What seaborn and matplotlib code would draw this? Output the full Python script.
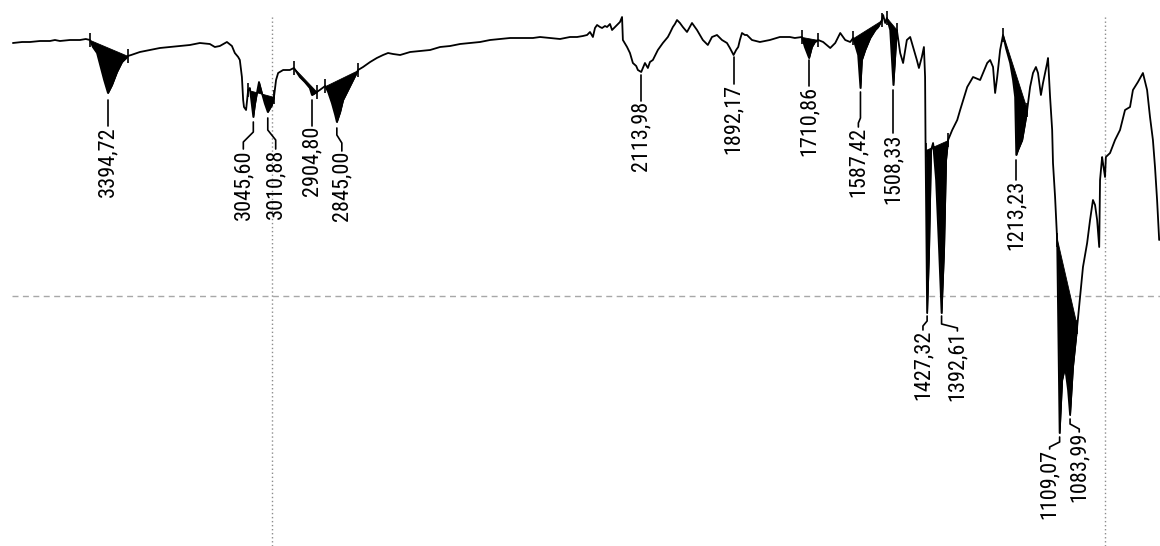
import matplotlib
matplotlib.use("Agg")
import matplotlib.pyplot as plt
from matplotlib import font_manager
import numpy as np
import pandas as pd
import seaborn as sns

# IR spectrum: wavenumber (cm-1) and transmittance (%)
wavenumber = [
    3623, 3601, 3582, 3558, 3534, 3522, 3510, 3486, 3462, 3448,
    3438, 3431, 3421, 3414, 3404, 3394.72, 3385, 3373, 3361, 3351,
    3347, 3339, 3318, 3294, 3270, 3246, 3222, 3198, 3174, 3150,
    3138, 3126, 3109, 3097, 3090, 3082, 3078, 3073, 3070, 3068,
    3063, 3058, 3054, 3045.60, 3042, 3037, 3032, 3025, 3018, 3010.88,
    3001, 2996, 2991, 2986, 2974, 2958, 2948, 2934, 2922, 2910,
    2904.80, 2893, 2886, 2873, 2866, 2857, 2849, 2845.00, 2837, 2830,
    2818, 2806, 2794, 2782, 2765, 2749, 2734, 2722, 2710, 2693,
    2669, 2645, 2621, 2597, 2573, 2549, 2525, 2501, 2477, 2453,
    2429, 2405, 2374, 2357, 2333, 2309, 2285, 2268, 2254, 2244,
    2237, 2230, 2225, 2220, 2213, 2208, 2201, 2196, 2189, 2184,
    2177, 2172, 2165, 2160, 2158, 2148, 2141, 2134, 2126, 2122,
    2113.98, 2110, 2105, 2098, 2093, 2086, 2074, 2062, 2050, 2045,
    2038, 2033, 2028, 2021, 2014, 2004, 1992, 1980, 1966, 1954,
    1944, 1932, 1920, 1908, 1901, 1892.17, 1886, 1881, 1877, 1872,
    1865, 1860, 1848, 1838, 1829, 1805, 1781, 1757, 1745, 1728,
    1721, 1710.86, 1704, 1697, 1689, 1677, 1660, 1648, 1636, 1624,
    1612, 1605, 1600, 1593, 1587.42, 1584, 1576, 1564, 1552, 1545,
    1536, 1533, 1528, 1524, 1516, 1508.33, 1502, 1500, 1492, 1485,
    1476, 1468, 1461, 1452, 1447, 1440, 1435, 1432.2, 1431.0, 1429.8,
    1427.32, 1422.6, 1417.8, 1413.0, 1405.8, 1398.6, 1392.61, 1386.6, 1381.8, 1377.0,
    1367, 1355, 1348, 1331, 1317, 1300, 1283, 1276, 1269, 1264,
    1259, 1252, 1245, 1238, 1228, 1221, 1216, 1213.23, 1209, 1199,
    1192, 1187, 1180, 1173, 1166, 1161, 1154, 1149, 1139, 1137,
    1132, 1127, 1125, 1120, 1115, 1112.8, 1109.07, 1103, 1096, 1088.8,
    1083.99, 1077, 1067, 1060, 1053, 1043, 1036, 1029, 1024, 1019,
    1014, 1012, 1007, 1005, 1000, 998, 988, 976, 964, 952,
    940, 933, 921, 909, 899, 892, 885, 880, 875, 870,
]

transmittance = [
    100.6, 100.8, 100.8, 101.0, 101.0, 101.2, 101.0, 101.2, 101.2, 101.4,
    101.2, 99.8, 98.6, 96.4, 93.2, 90.6, 92.2, 94.8, 96.8, 97.6,
    98.0, 98.2, 98.8, 99.2, 99.6, 99.8, 100.0, 100.2, 100.6, 100.4,
    99.8, 100.0, 100.8, 100.0, 98.6, 97.8, 97.2, 93.8, 89.2, 87.8,
    87.2, 91.2, 91.6, 85.8, 88.2, 90.6, 92.8, 90.6, 88.5, 86.8,
    88.2, 89.8, 93.2, 94.6, 95.2, 95.2, 95.6, 93.8, 92.8, 91.6,
    90.2, 90.8, 91.2, 92.0, 90.8, 88.6, 86.2, 84.8, 86.8, 89.2,
    91.2, 93.2, 95.2, 95.8, 96.8, 97.6, 98.2, 98.6, 98.4, 98.2,
    98.8, 99.0, 99.2, 99.8, 100.0, 100.4, 100.6, 100.8, 101.2, 101.4,
    101.6, 101.6, 101.6, 101.8, 101.6, 101.4, 101.8, 101.8, 102.0, 102.2,
    102.8, 101.8, 103.6, 104.2, 103.8, 103.6, 104.0, 103.8, 104.4, 103.2,
    103.8, 104.2, 104.8, 105.8, 101.2, 99.8, 98.6, 96.6, 96.0, 95.2,
    94.8, 95.6, 96.6, 95.6, 96.8, 97.2, 99.2, 100.6, 101.8, 102.6,
    103.8, 104.4, 105.2, 104.6, 103.8, 102.8, 104.6, 103.2, 101.2, 100.2,
    101.8, 102.2, 101.2, 100.6, 99.6, 98.2, 99.2, 99.8, 101.2, 102.6,
    102.2, 102.2, 101.2, 101.0, 100.8, 101.2, 101.8, 101.8, 101.6, 101.8,
    99.8, 97.6, 99.8, 100.8, 101.2, 100.8, 99.6, 100.6, 102.6, 101.2,
    100.8, 101.6, 100.2, 98.2, 91.6, 97.2, 99.2, 101.6, 103.2, 103.8,
    105.2, 106.2, 104.6, 105.6, 103.2, 92.2, 100.6, 103.2, 98.6, 96.6,
    101.2, 101.8, 99.8, 97.2, 95.6, 97.8, 99.8, 93.8, 79.2, 69.2,
    46.6, 59.2, 79.2, 80.6, 73.2, 59.2, 46.6, 59.2, 77.2, 81.2,
    83.2, 85.2, 87.2, 91.8, 93.8, 93.2, 96.6, 97.2, 95.8, 90.6,
    93.8, 99.2, 102.2, 99.6, 96.6, 93.2, 89.8, 78.2, 79.2, 81.2,
    84.6, 87.2, 91.8, 94.6, 95.8, 94.6, 90.2, 92.6, 96.6, 97.6,
    89.8, 83.2, 76.6, 69.8, 61.2, 47.2, 22.6, 33.2, 35.8, 31.2,
    26.2, 35.8, 43.8, 49.8, 55.8, 60.6, 65.2, 69.2, 68.2, 65.2,
    59.8, 73.2, 77.8, 76.6, 73.8, 77.8, 78.6, 81.2, 83.2, 87.2,
    87.8, 91.2, 92.8, 94.6, 91.2, 85.8, 81.2, 75.8, 69.2, 61.2,
]

# Integrated bands (start, end wavenumber)
band_windows = [
    (3438, 3347), (3058, 2996), (2948, 2893), (2873, 2794), (1728, 1689),
    (1605, 1536), (1524, 1500), (1431.0, 1377.0), (1245, 1187), (1115, 1067),
]

# Labelled peak positions
peak_positions = [
    3394.72, 3045.60, 3010.88, 2904.80, 2845.00, 2113.98, 1892.17, 1710.86,
    1587.42, 1508.33, 1427.32, 1392.61, 1213.23, 1109.07, 1083.99,
]

# Leader layout per peak: text shift (cm-1), leader start, two bend levels, text top (%T)
leader_layout = [
    (0, 89.2, 86.0, 85.0, 84.0),
    (24, 84.8, 82.8, 80.8, 79.4),
    (-19, 85.6, 83.2, 81.2, 79.4),
    (0, 89.2, 86.0, 85.0, 84.0),
    (-12, 83.6, 82.2, 80.6, 79.0),
    (0, 94.2, 91.0, 90.0, 89.0),
    (0, 97.8, 94.0, 93.0, 92.4),
    (0, 97.2, 93.0, 92.5, 92.0),
    (5, 90.8, 85.6, 84.6, 83.8),
    (0, 91.2, 84.0, 83.0, 82.6),
    (10, 46.0, 45.0, 44.0, 43.2),
    (-38, 46.0, 44.4, 43.6, 43.0),
    (0, 77.2, 75.0, 74.0, 73.2),
    (24, 21.8, 20.8, 19.8, 19.4),
    (-22, 25.4, 24.4, 23.4, 22.8),
]

grid_wavenumbers = [3000, 1000]
grid_transmittance = [50]

sns.set_style("white")

# pick a narrow face for the peak labels when one is available
installed = font_manager.fontManager.ttflist
narrow_names = ["Liberation Sans Narrow", "DejaVu Sans Condensed",
                "Roboto Condensed", "Open Sans Condensed", "Noto Sans Condensed"]
label_font = None
for name in narrow_names:
    if any(f.name == name for f in installed):
        label_font = font_manager.FontProperties(family=name, size=16)
        break
if label_font is None:
    cond = [f for f in installed
            if str(f.stretch).lower() in ("condensed", "semi-condensed", "extra-condensed")
            or (isinstance(f.stretch, (int, float)) and f.stretch < 500)]
    cond = [f for f in cond if f.weight in ("normal", 400, "regular", "book")] or cond
    if cond:
        label_font = font_manager.FontProperties(fname=cond[0].fname, size=16)
    else:
        label_font = font_manager.FontProperties(family="DejaVu Sans", size=12.5)

df = pd.DataFrame({"wavenumber": wavenumber, "T": transmittance})
wn = np.asarray(wavenumber, dtype=float)
tr = np.asarray(transmittance, dtype=float)

fig = plt.figure(figsize=(11.6, 5.46), dpi=100)
ax = fig.add_axes([0, 0, 1, 1])
ax.set_xlim(3654, 868)
ax.set_ylim(0, 109.2)
ax.set_axis_off()

# grid lines
for g in grid_wavenumbers:
    ax.axvline(g, ymin=0, ymax=0.972, color="#8c8c8c", lw=1.0,
               linestyle=(0, (1.0, 1.9)), zorder=0)
for g in grid_transmittance:
    ax.axhline(g, xmin=0.01, xmax=1, color="#a8a8a8", lw=1.0,
               linestyle=(0, (4.3, 3.2)), zorder=0)

# spectrum trace
sns.lineplot(data=df, x="wavenumber", y="T", sort=False, estimator=None,
             color="black", lw=1.3, ax=ax, legend=False)

# shaded band areas between the curve and the baseline chord
for hi, lo in band_windows:
    m = (wn <= hi) & (wn >= lo)
    xs, ys = wn[m], tr[m]
    t0 = tr[wn == hi][0]
    t1 = tr[wn == lo][0]
    chord = t0 + (t1 - t0) * (xs - hi) / (lo - hi)
    ax.fill_between(xs, ys, chord, color="black", lw=0.6, edgecolor="black")
    for edge, tv in ((hi, t0), (lo, t1)):
        ax.vlines(edge, tv - 1.4, tv + 1.4, color="black", lw=1.2)

# peak labels with leaders
for p, (dx, t_start, t_k1, t_k2, t_text) in zip(peak_positions, leader_layout):
    xs = [p, p, p + dx, p + dx]
    ys = [t_start, t_k1, t_k2, t_text]
    ax.plot(xs, ys, color="black", lw=1.2)
    ax.text(p + dx, t_text, f"{p:.2f}".replace(".", ","), rotation=90,
            ha="center", va="top", fontproperties=label_font, color="black")

fig.savefig("out.png", dpi=100)
